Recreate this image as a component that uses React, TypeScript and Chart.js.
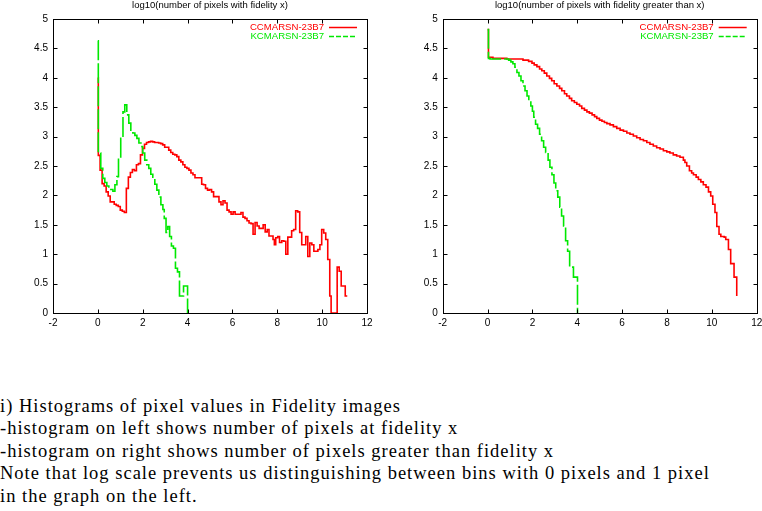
import React, { useEffect, useRef } from "react";
import { Chart, registerables } from "chart.js";

Chart.register(...registerables);

// ---------- data ----------
const xTickValues = [-2, 0, 2, 4, 6, 8, 10, 12];
const yTickValues = [0, 0.5, 1, 1.5, 2, 2.5, 3, 3.5, 4, 4.5, 5];

const seriesNames = ["CCMARSN-23B7", "KCMARSN-23B7"];
const seriesColors = ["#ff0000", "#00e800"];

const leftTitle = "log10(number of pixels with fidelity x)";
const rightTitle = "log10(number of pixels with fidelity greater than x)";

// Left panel: histogram, CCMARSN-23B7
const histCCx = [0, 0.02, 0.1, 0.19, 0.28, 0.37, 0.46, 0.55, 0.73, 0.82, 0.91, 1.0, 1.09, 1.18, 1.27, 1.36, 1.45, 1.54, 1.63, 1.72, 1.81, 1.9, 1.99, 2.08, 2.17, 2.26, 2.35, 2.44, 2.53, 2.71, 2.8, 2.89, 2.98, 3.16, 3.25, 3.34, 3.43, 3.52, 3.61, 3.7, 3.79, 3.88, 3.97, 4.06, 4.15, 4.24, 4.33, 4.63, 4.71, 4.8, 4.89, 4.98, 5.07, 5.16, 5.4, 5.49, 5.58, 5.67, 5.76, 5.85, 5.94, 6.03, 6.12, 6.38, 6.47, 6.56, 6.65, 6.74, 6.83, 6.92, 7.01, 7.1, 7.19, 7.37, 7.46, 7.55, 7.63, 7.81, 7.87, 7.93, 8.02, 8.1, 8.2, 8.29, 8.38, 8.47, 8.64, 8.73, 8.82, 8.91, 9.0, 9.09, 9.27, 9.36, 9.45, 9.54, 9.63, 9.81, 9.9, 9.98, 10.07, 10.16, 10.25, 10.34, 10.4, 10.67, 10.76, 10.85, 11.03, 11.12];
const histCCy = [4.0, 2.68, 2.43, 2.2, 2.16, 2.06, 1.99, 1.89, 1.85, 1.83, 1.81, 1.75, 1.73, 1.71, 2.12, 2.31, 2.39, 2.44, 2.42, 2.52, 2.54, 2.69, 2.8, 2.87, 2.9, 2.91, 2.92, 2.91, 2.9, 2.89, 2.88, 2.86, 2.82, 2.77, 2.73, 2.7, 2.69, 2.66, 2.6, 2.57, 2.52, 2.48, 2.46, 2.43, 2.38, 2.35, 2.3, 2.19, 2.18, 2.12, 2.09, 2.1, 2.06, 1.98, 1.89, 1.84, 1.91, 1.87, 1.75, 1.72, 1.68, 1.72, 1.68, 1.71, 1.63, 1.61, 1.57, 1.53, 1.52, 1.34, 1.54, 1.48, 1.44, 1.5, 1.38, 1.42, 1.31, 1.25, 1.16, 1.28, 1.3, 1.2, 1.23, 1.22, 1.0, 1.29, 1.4, 1.42, 1.74, 1.72, 1.37, 1.16, 1.3, 0.96, 1.19, 1.16, 1.05, 1.08, 1.16, 1.42, 1.36, 1.25, 0.91, 0.29, 0, 0.78, 0.71, 0.46, 0.29, 0.29];

// Left panel: histogram, KCMARSN-23B7
const histKCx = [0, 0.02, 0.13, 0.22, 0.31, 0.4, 0.49, 0.58, 0.67, 0.76, 0.85, 0.92, 1.02, 1.12, 1.2, 1.29, 1.38, 1.47, 1.56, 1.65, 1.74, 1.83, 1.92, 2.0, 2.09, 2.18, 2.27, 2.36, 2.45, 2.54, 2.63, 2.72, 2.81, 2.9, 2.96, 3.04, 3.12, 3.2, 3.28, 3.37, 3.46, 3.55, 3.64, 3.82, 4.0];
const histKCy = [4.63, 2.72, 2.46, 2.29, 2.22, 2.16, 2.12, 2.1, 2.07, 2.18, 2.32, 2.63, 2.97, 3.42, 3.54, 3.37, 3.23, 3.11, 3.06, 3.02, 2.97, 2.89, 2.83, 2.72, 2.6, 2.52, 2.46, 2.36, 2.31, 2.19, 2.09, 1.97, 1.84, 1.76, 1.61, 1.37, 1.47, 1.3, 1.14, 1.1, 0.76, 0.7, 0.29, 0.46, 0];

// Right panel: cumulative, CCMARSN-23B7
const cumCCx = [0, 0.04, 0.24, 0.86, 1.58, 1.83, 1.98, 2.08, 2.2, 2.32, 2.42, 2.53, 2.64, 2.76, 2.86, 2.97, 3.09, 3.21, 3.31, 3.43, 3.53, 3.65, 3.75, 3.87, 3.98, 4.1, 4.2, 4.32, 4.43, 4.54, 4.66, 4.77, 4.87, 4.99, 5.1, 5.21, 5.32, 5.46, 5.61, 5.76, 5.91, 6.06, 6.21, 6.35, 6.5, 6.65, 6.8, 6.95, 7.1, 7.24, 7.39, 7.54, 7.69, 7.84, 7.99, 8.13, 8.28, 8.43, 8.58, 8.73, 8.8, 8.88, 9.0, 9.1, 9.18, 9.3, 9.4, 9.51, 9.62, 9.74, 9.85, 9.95, 10.04, 10.14, 10.22, 10.32, 10.4, 10.55, 10.62, 10.74, 10.84, 10.99, 11.11];
const cumCCy = [4.82, 4.35, 4.33, 4.32, 4.3, 4.28, 4.25, 4.22, 4.19, 4.15, 4.12, 4.08, 4.03, 3.99, 3.95, 3.9, 3.86, 3.82, 3.78, 3.73, 3.69, 3.65, 3.61, 3.58, 3.55, 3.52, 3.48, 3.45, 3.42, 3.4, 3.37, 3.34, 3.31, 3.28, 3.26, 3.24, 3.22, 3.2, 3.17, 3.14, 3.11, 3.09, 3.06, 3.04, 3.01, 2.98, 2.95, 2.93, 2.9, 2.87, 2.84, 2.81, 2.79, 2.76, 2.74, 2.72, 2.69, 2.67, 2.65, 2.6, 2.56, 2.5, 2.42, 2.38, 2.35, 2.31, 2.27, 2.23, 2.18, 2.14, 2.06, 1.99, 1.85, 1.71, 1.47, 1.34, 1.3, 1.29, 1.25, 1.08, 0.84, 0.61, 0.29];

// Right panel: cumulative, KCMARSN-23B7
const cumKCx = [0, 0.04, 0.11, 0.94, 1.04, 1.13, 1.22, 1.31, 1.4, 1.49, 1.58, 1.67, 1.76, 1.84, 1.93, 2.0, 2.06, 2.14, 2.23, 2.32, 2.41, 2.5, 2.59, 2.7, 2.78, 2.87, 2.96, 3.04, 3.13, 3.22, 3.3, 3.39, 3.48, 3.57, 3.66, 3.83, 4.01];
const cumKCy = [4.82, 4.33, 4.32, 4.3, 4.27, 4.24, 4.18, 4.09, 4.03, 3.95, 3.86, 3.78, 3.69, 3.61, 3.52, 3.43, 3.33, 3.21, 3.14, 3.04, 2.93, 2.82, 2.73, 2.6, 2.48, 2.35, 2.21, 2.08, 1.97, 1.8, 1.65, 1.48, 1.23, 1.05, 0.78, 0.61, 0];

const captionLines = [
  "i) Histograms of pixel values in Fidelity images",
  "-histogram on left shows number of pixels at fidelity x",
  "-histogram on right shows number of pixels greater than fidelity x",
  "Note that log scale prevents us distinguishing between bins with 0 pixels and 1 pixel",
  "in the graph on the left.",
];

// ---------- chart helpers ----------
const SANS = "'Liberation Sans', Arial, Helvetica, sans-serif";

const framePlugin = {
  id: "gnuFrame",
  afterDatasetsDraw(chart: any) {
    const { ctx, chartArea: a, scales } = chart;
    ctx.save();
    ctx.strokeStyle = "#000";
    ctx.lineWidth = 1;
    ctx.setLineDash([]);
    const l = Math.round(a.left) + 0.5;
    const t = Math.round(a.top) + 0.5;
    const r = Math.round(a.right) + 0.5;
    const b = Math.round(a.bottom) + 0.5;
    ctx.strokeRect(l, t, r - l, b - t);
    const L = 4;
    ctx.beginPath();
    scales.x.ticks.forEach((tk: any) => {
      const px = Math.round(scales.x.getPixelForValue(tk.value)) + 0.5;
      ctx.moveTo(px, b);
      ctx.lineTo(px, b - L);
      ctx.moveTo(px, t);
      ctx.lineTo(px, t + L);
    });
    scales.y.ticks.forEach((tk: any) => {
      const py = Math.round(scales.y.getPixelForValue(tk.value)) + 0.5;
      ctx.moveTo(l, py);
      ctx.lineTo(l + L, py);
      ctx.moveTo(r, py);
      ctx.lineTo(r - L, py);
    });
    ctx.stroke();

    // key, gnuplot style: label then sample line, top right inside the frame
    ctx.font = `9.6px ${SANS}`;
    ctx.textAlign = "right";
    ctx.textBaseline = "middle";
    chart.data.datasets.forEach((ds: any, i: number) => {
      const y = Math.round(a.top + 8 + i * 9) + 0.5;
      ctx.fillStyle = ds.borderColor;
      ctx.fillText(ds.label, a.right - 43, y);
      ctx.strokeStyle = ds.borderColor;
      ctx.lineWidth = 1.5;
      ctx.setLineDash(ds.borderDash ? [5, 2] : []);
      ctx.beginPath();
      ctx.moveTo(a.right - 38, y);
      ctx.lineTo(a.right - 10, y);
      ctx.stroke();
      ctx.setLineDash([]);
    });
    ctx.restore();
  },
};

function pts(xs: number[], ys: number[]) {
  return xs.map((x, i) => ({ x, y: ys[i] }));
}

function makeConfig(
  title: string,
  ccx: number[],
  ccy: number[],
  kcx: number[],
  kcy: number[],
  yWidth: number,
  rightPad: number
): any {
  const tickFont = { family: SANS, size: 10 };
  return {
    type: "line",
    data: {
      datasets: [
        {
          label: seriesNames[0],
          data: pts(ccx, ccy),
          borderColor: seriesColors[0],
          borderWidth: 1.6,
          pointRadius: 0,
          stepped: "before",
          fill: false,
          order: 1,
        },
        {
          label: seriesNames[1],
          data: pts(kcx, kcy),
          borderColor: seriesColors[1],
          borderWidth: 1.6,
          borderDash: [20, 3],
          pointRadius: 0,
          stepped: "before",
          fill: false,
          order: 0,
        },
      ],
    },
    options: {
      responsive: false,
      animation: false,
      events: [],
      layout: { padding: { left: 0, right: rightPad, top: 0, bottom: 0 } },
      plugins: {
        legend: { display: false },
        tooltip: { enabled: false },
        title: {
          display: true,
          text: title,
          fullSize: false,
          color: "#000",
          font: { family: SANS, size: 9.5, weight: "normal", lineHeight: 1.2 },
          padding: { top: 0, bottom: 7.6 },
        },
      },
      scales: {
        x: {
          type: "linear",
          min: -2,
          max: 12,
          afterBuildTicks: (s: any) => {
            s.ticks = xTickValues.map((v) => ({ value: v }));
          },
          afterFit: (s: any) => {
            s.height = 27;
          },
          grid: { display: false, drawTicks: false },
          border: { display: false },
          ticks: {
            color: "#000",
            font: tickFont,
            padding: 4,
            maxRotation: 0,
            autoSkip: false,
            callback: (v: any) => String(v),
          },
        },
        y: {
          type: "linear",
          min: 0,
          max: 5,
          afterBuildTicks: (s: any) => {
            s.ticks = yTickValues.map((v) => ({ value: v }));
          },
          afterFit: (s: any) => {
            s.width = yWidth;
          },
          grid: { display: false, drawTicks: false },
          border: { display: false },
          ticks: {
            color: "#000",
            font: tickFont,
            padding: 5,
            autoSkip: false,
            callback: (v: any) => String(v),
          },
        },
      },
    },
    plugins: [framePlugin],
  };
}

export default function App() {
  const leftRef = useRef<HTMLCanvasElement | null>(null);
  const rightRef = useRef<HTMLCanvasElement | null>(null);

  useEffect(() => {
    const charts: Chart[] = [];
    if (leftRef.current) {
      charts.push(
        new Chart(
          leftRef.current,
          makeConfig(leftTitle, histCCx, histCCy, histKCx, histKCy, 53, 14)
        )
      );
    }
    if (rightRef.current) {
      charts.push(
        new Chart(
          rightRef.current,
          makeConfig(rightTitle, cumCCx, cumCCy, cumKCx, cumKCy, 61.7, 14.3)
        )
      );
    }
    return () => charts.forEach((c) => c.destroy());
  }, []);

  return (
    <div
      style={{
        position: "fixed",
        left: 0,
        top: 0,
        width: 762,
        height: 511,
        overflow: "hidden",
        background: "#fff",
      }}
    >
      <canvas
        ref={leftRef}
        width={381}
        height={340}
        style={{ position: "absolute", left: 0, top: 0, width: 381, height: 340 }}
      />
      <canvas
        ref={rightRef}
        width={390}
        height={340}
        style={{ position: "absolute", left: 381, top: 0, width: 390, height: 340 }}
      />
      <div
        style={{
          position: "absolute",
          left: 0,
          top: 395,
          fontFamily: "'Liberation Serif', 'Times New Roman', serif",
          fontSize: 18.5,
          letterSpacing: "1px",
          lineHeight: "22.4px",
          color: "#000",
          whiteSpace: "nowrap",
        }}
      >
        {captionLines.map((line, i) => (
          <div key={i}>{line}</div>
        ))}
      </div>
    </div>
  );
}
